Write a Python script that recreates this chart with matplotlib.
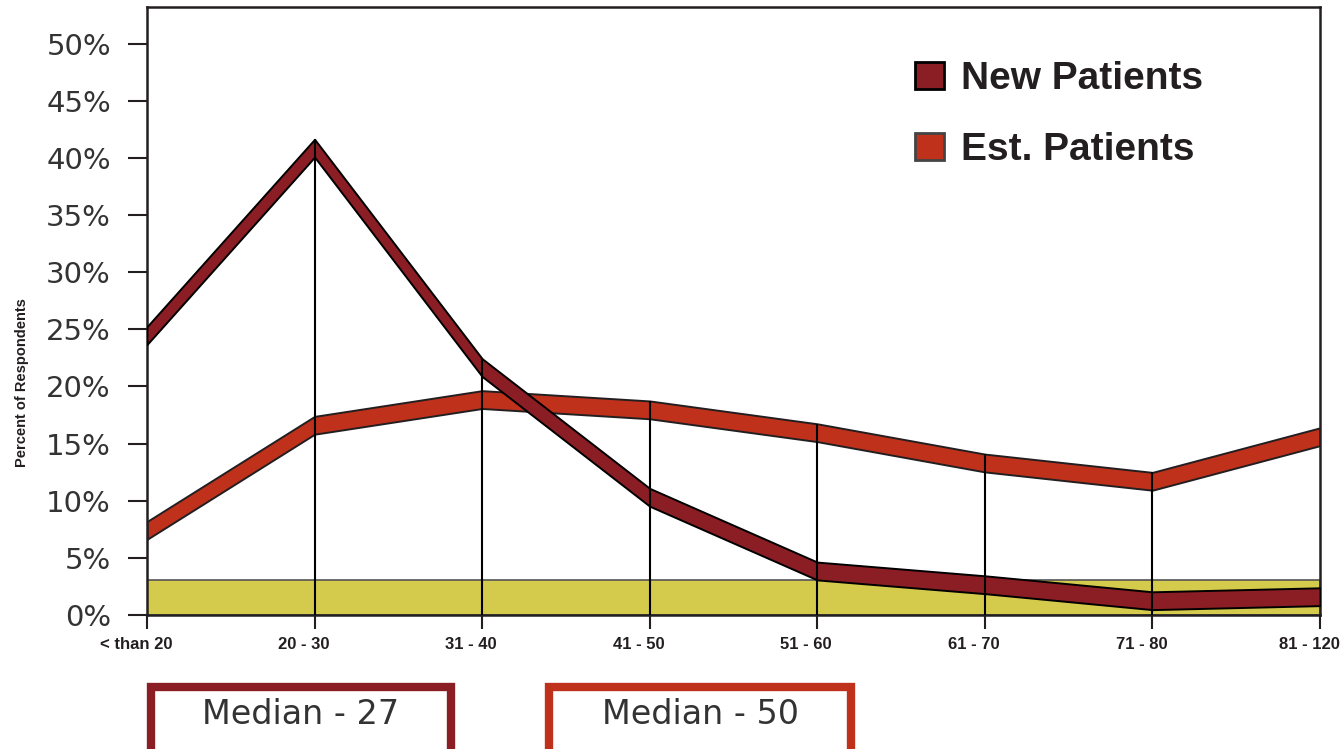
import matplotlib
matplotlib.use("Agg")
import matplotlib.pyplot as plt
import matplotlib.transforms as mtransforms
from matplotlib.patches import Patch, Rectangle

# data (percent of respondents, ribbon centre)
categories = ["< than 20", "20 - 30", "31 - 40", "41 - 50", "51 - 60", "61 - 70", "71 - 80", "81 - 120"]
new_patients = [24.45, 40.85, 21.65, 10.3, 3.85, 2.65, 1.25, 1.6]
est_patients = [7.4, 16.6, 18.85, 17.95, 15.95, 13.3, 11.7, 15.6]
band_level = 3.05
medians = [27, 50]
series_names = ["New Patients", "Est. Patients"]

NEW_COLOR = "#8B1E24"
EST_COLOR = "#C0311C"
BAND_COLOR = "#D4CA4C"
TEXT_COLOR = "#231F20"
half = 0.78  # half thickness of the ribbons

W, H = 1341, 749
fig = plt.figure(figsize=(W / 100, H / 100), dpi=100)
ax = fig.add_axes([147 / W, 1 - 615 / H, (1320 - 147) / W, (615 - 7) / H])

x = list(range(len(categories)))

# yellow band at the bottom
ax.fill_between([x[0], x[-1]], 0, band_level, facecolor=BAND_COLOR,
                edgecolor="#555555", linewidth=1.2, zorder=1)

# ribbons
lo = [v - half for v in est_patients]
hi = [v + half for v in est_patients]
ax.fill_between(x, lo, hi, facecolor=EST_COLOR, edgecolor=TEXT_COLOR, linewidth=1.4, zorder=2)
lo = [v - half for v in new_patients]
hi = [v + half for v in new_patients]
ax.fill_between(x, lo, hi, facecolor=NEW_COLOR, edgecolor="black", linewidth=1.4, zorder=3)

# drop lines from the highest ribbon to the axis
tops = [max(a, b) + half for a, b in zip(new_patients, est_patients)]
ax.vlines(x[1:-1], 0, tops[1:-1], colors="black", linewidth=1.5, zorder=4)

ax.set_xlim(0, len(categories) - 1)
ax.set_ylim(0, 53.2)
ax.set_yticks(range(0, 51, 5))
ax.set_yticklabels([f"{v}%" for v in range(0, 51, 5)])
ax.set_xticks(x)
ax.set_xticklabels(categories)

for s in ax.spines.values():
    s.set_color(TEXT_COLOR)
    s.set_linewidth(1.8)

ax.tick_params(axis="y", direction="out", length=14, width=1.5, pad=12,
               labelsize=21, labelcolor="#333333", color=TEXT_COLOR)
ax.tick_params(axis="x", direction="out", length=10, width=1.5, pad=6,
               labelsize=12, labelcolor=TEXT_COLOR, color=TEXT_COLOR)
shift = mtransforms.ScaledTranslation(-11 / 100, 0, fig.dpi_scale_trans)
for lab in ax.get_xticklabels():
    lab.set_fontweight("bold")
    lab.set_fontfamily("Liberation Sans")
    lab.set_transform(lab.get_transform() + shift)

fig.text(22 / W, 1 - 383 / H, "Percent of Respondents", rotation=90, ha="center", va="center",
         fontsize=10.5, fontweight="bold", family="Liberation Sans", color=TEXT_COLOR)

# legend
handles = [Patch(facecolor=NEW_COLOR, edgecolor="black", linewidth=2),
           Patch(facecolor=EST_COLOR, edgecolor="#444444", linewidth=2)]
ax.legend(handles, series_names, loc="upper left", bbox_to_anchor=(0.638, 0.943),
          frameon=False, borderpad=0, handlelength=0.75, handleheight=0.7,
          handletextpad=0.45, labelspacing=0.9,
          prop={"family": "Liberation Sans", "weight": "bold", "size": 28},
          labelcolor=TEXT_COLOR)

# median boxes under the chart
box_specs = [(147, 455, NEW_COLOR), (545, 855, EST_COLOR)]
for (x0, x1, col), m in zip(box_specs, medians):
    fig.patches.append(Rectangle((x0 / W + 4 / W, 1 - 770 / H), (x1 - x0 - 8) / W, (770 - 687) / H,
                                 transform=fig.transFigure, facecolor="white",
                                 edgecolor=col, linewidth=6))
    fig.text((x0 + x1) / 2 / W, 1 - 714 / H, f"Median - {m}", ha="center", va="center",
             fontsize=24, color="#333333")

fig.savefig("out.png", dpi=100)
